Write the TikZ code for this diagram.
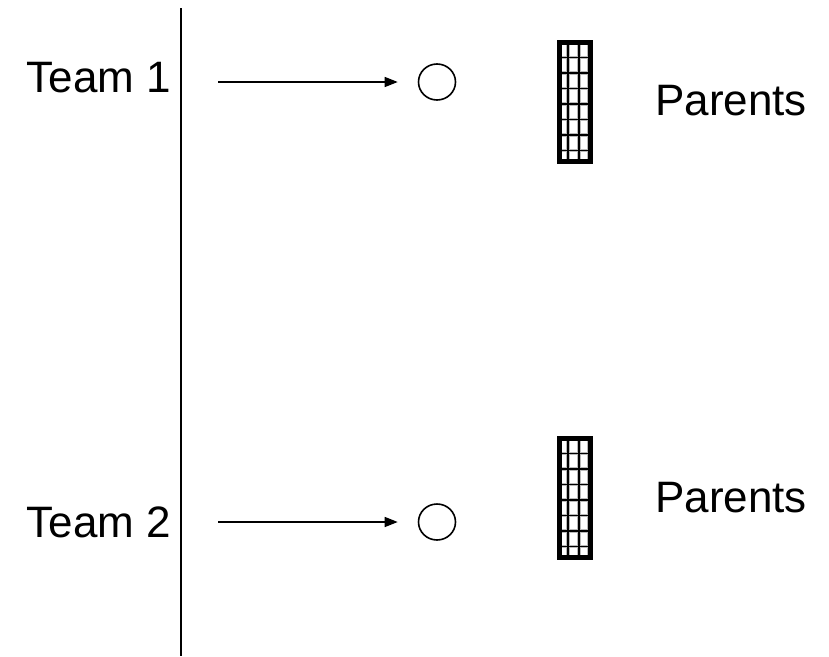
\documentclass[tikz,border=0pt]{standalone}
\usepackage{fontspec}
\setmainfont{Liberation Sans}
\usetikzlibrary{arrows.meta, shapes.geometric}

\begin{document}
\begin{tikzpicture}[
    x=1pt, y=-1pt,
    label/.style={font=\fontsize{44}{48}\selectfont, inner sep=0pt},
    ring/.style={draw, ellipse, line width=1.6pt, minimum width=37pt, minimum height=36pt, inner sep=0pt},
    goal/.style={draw, rectangle, line width=4.5pt, minimum width=31pt, minimum height=119pt, inner sep=0pt},
    arrow/.style={-{Triangle[length=13pt,width=10pt]}, line width=1.5pt}
]
\useasboundingbox (0,0) rectangle (829,656);

% Divider
\coordinate (top) at (181,8);
\coordinate (bottom) at (181,656);
\draw[line width=2pt] (top) -- (bottom);

% Team labels
\node[label, anchor=east] (team1) at (171,78) {Team 1};
\node[label, anchor=east] (team2) at (171,522) {Team 2};

% Balls
\node[ring] (ball1) at (437,82) {};
\node[ring] (ball2) at (437,522) {};

% Goals
\node[goal] (goal1) at (575,102) {};
\node[goal] (goal2) at (575,498) {};

% Nets
\foreach \gy in {42,438} {
  \foreach \gx in {568,579,589}
    \draw[gray!55, line width=3.5pt] (\gx,\gy) -- (\gx,\gy+120);
  \foreach \r in {1,...,7}
    \draw[gray!55, line width=3.5pt] (559,\gy+\r*15.5) -- (591,\gy+\r*15.5);
  \foreach \gx in {568,579,589}
    \draw[line width=1.5pt] (\gx,\gy) -- (\gx,\gy+120);
  \foreach \r in {1,...,7}
    \draw[line width=1.5pt] (559,\gy+\r*15.5) -- (591,\gy+\r*15.5);
}
\node[goal] at (goal1) {};
\node[goal] at (goal2) {};

% Parents labels
\node[label, anchor=west] (parents1) at (655,101) {Parents};
\node[label, anchor=west] (parents2) at (655,498) {Parents};

% Arrows
\coordinate (start1) at (218,82);
\coordinate (start2) at (218,522);
\draw[arrow, shorten >=20pt] (start1) -- (ball1.west);
\draw[arrow, shorten >=20pt] (start2) -- (ball2.west);

\end{tikzpicture}
\end{document}
